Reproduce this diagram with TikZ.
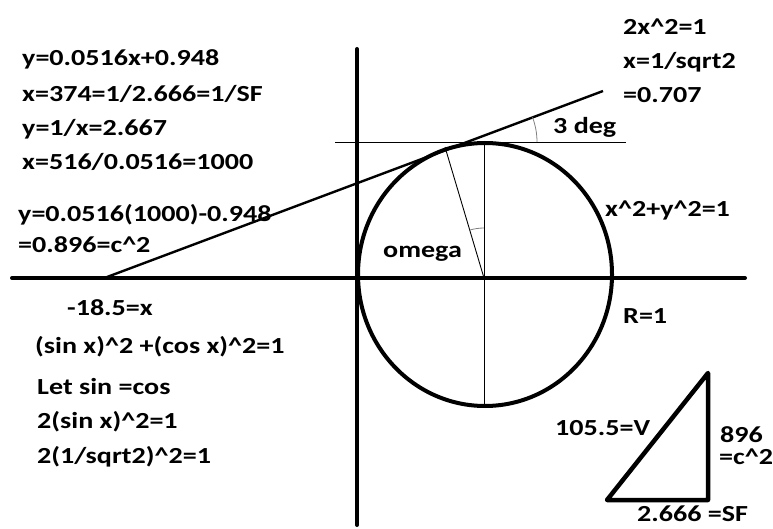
\documentclass[tikz,border=0pt]{standalone}
\usepackage{fontspec}
\setmainfont{Carlito}[FakeStretch=1.22]
\begin{document}
\begin{tikzpicture}[x=1pt,y=-1pt,
  lbl/.style={anchor=base west, inner sep=0pt, font=\fontsize{23}{27}\selectfont\bfseries},
  axisline/.style={line width=4pt, line cap=round},
  thickline/.style={line width=4pt},
  tanline/.style={line width=2.4pt},
  thinline/.style={line width=0.9pt},
  angarc/.style={line width=0.8pt, gray}]
\useasboundingbox (0,0) rectangle (773,529);
% axes
\coordinate (hl) at (12,278); \coordinate (hr) at (745,278);
\coordinate (vt) at (357,49); \coordinate (vb) at (357,525);
\draw[axisline] (hl) -- (hr);
\draw[axisline] (vt) -- (vb);
% circle
\coordinate (C) at (485,274.5);
\draw[thickline] (C) ellipse [x radius=127, y radius=131.5];
% thin lines
\coordinate (ctop) at (484,143); \coordinate (cbot) at (484,406);
\draw[thinline] (ctop) -- (cbot);
\coordinate (hzl) at (335,142); \coordinate (hzr) at (626,142);
\draw[thinline] (hzl) -- (hzr);
\coordinate (O) at (484,278); \coordinate (P) at (445,147);
\draw[thinline] (O) -- (P);
% tangent
\coordinate (ta) at (107,277); \coordinate (tb) at (603,91);
\draw[tanline] (ta) -- (tb);
% angle arcs
\coordinate (T) at (467,142);
\draw[angarc] (537,142) arc[start angle=0, end angle=-20.6, radius=70];
\draw[angarc] (469.7,230.1) arc[start angle=253.4, end angle=270, radius=50];
% triangle
\coordinate (ra) at (607,500); \coordinate (rb) at (708,500); \coordinate (rc) at (708,373);
\draw[line width=4.5pt, line join=round, line cap=round] (ra) -- (rb) -- (rc) -- cycle;
% texts
\node[lbl] (t1) at (22,66) {y=0.0516x+0.948};
\node[lbl] (t2) at (22,102) {x=374=1/2.666=1/SF};
\node[lbl] (t3) at (22,136) {y=1/x=2.667};
\node[lbl] (t4) at (22,170) {x=516/0.0516=1000};
\node[lbl] (t5) at (18,222) {y=0.0516(1000)-0.948};
\node[lbl] (t6) at (18,252) {=0.896=c\^{}2};
\node[lbl] (t7) at (67,315) {-18.5=x};
\node[lbl] (t8) at (35,353) {(sin x)\^{}2 +(cos x)\^{}2=1};
\node[lbl] (t9) at (37,394) {Let sin =cos};
\node[lbl] (t10) at (37,428) {2(sin x)\^{}2=1};
\node[lbl] (t11) at (37,463) {2(1/sqrt2)\^{}2=1};
\node[lbl] (r1) at (623,35) {2x\^{}2=1};
\node[lbl] (r2) at (623,69) {x=1/sqrt2};
\node[lbl] (r3) at (623,103) {=0.707};
\node[lbl] (deg) at (553,134) {3 deg};
\node[lbl] (circ) at (605,217) {x\^{}2+y\^{}2=1};
\node[lbl] (om) at (383,258) {omega};
\node[lbl] (R) at (623,323) {R=1};
\node[lbl] (V) at (555,435) {105.5=V};
\node[lbl] (c1) at (720,442) {896};
\node[lbl] (c2) at (719,464) {=c\^{}2};
\node[lbl] (sf) at (637,521) {2.666 =SF};
\end{tikzpicture}
\end{document}
